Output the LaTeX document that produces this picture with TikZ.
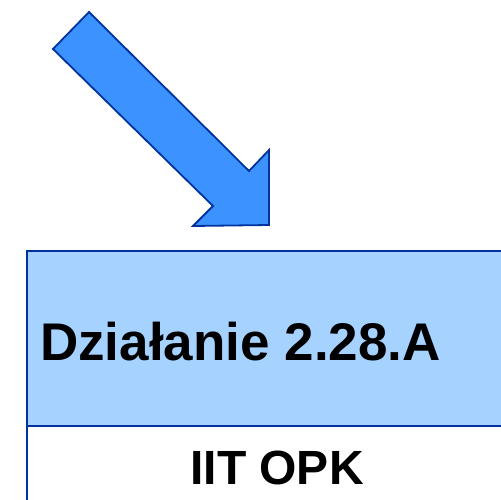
\documentclass[tikz,border=0pt]{standalone}
\usepackage{fontspec}
\setmainfont{Liberation Sans}
\definecolor{arrowfill}{RGB}{60,147,255}
\definecolor{darkblue}{RGB}{0,51,160}
\definecolor{boxfill}{RGB}{166,210,255}
\begin{document}
\begin{tikzpicture}[x=1pt,y=-1pt,
  bigarrow/.style={fill=arrowfill,draw=darkblue,line width=1.8pt,line join=miter},
  headbox/.style={fill=boxfill,draw=darkblue,line width=2pt},
  lowbox/.style={fill=white,draw=darkblue,line width=2pt},
  title/.style={font=\bfseries\fontsize{53}{53}\selectfont,anchor=base west,inner sep=0pt},
  sub/.style={font=\bfseries\fontsize{48}{48}\selectfont,anchor=base,inner sep=0pt}]
\useasboundingbox (0,0) rectangle (501,499);
\clip (0,0) rectangle (501,499);
% arrow
\draw[bigarrow] (89,12) coordinate (a1) -- (53,49) coordinate (a2) -- (213,206) coordinate (a3)
  -- (193,226) coordinate (a4) -- (269,225) coordinate (a5) -- (269,150) coordinate (a6)
  -- (249,171) coordinate (a7) -- cycle;
% box
\draw[lowbox] (27,425.5) rectangle (520,520);
\draw[headbox] (27,251) rectangle (520,425.5);
\node[title] (t1) at (40,360) {Działanie 2.28.A};
\node[sub] (t2) at (277,484) {IIT OPK};
\end{tikzpicture}
\end{document}
